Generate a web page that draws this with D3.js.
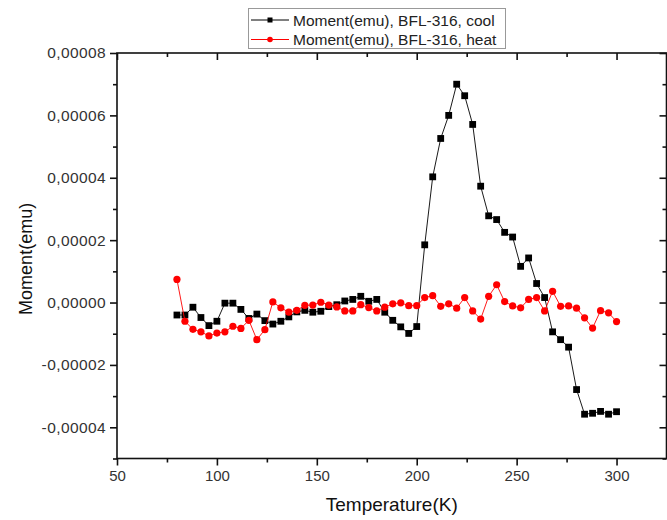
<!DOCTYPE html>
<html>
<head>
<meta charset="utf-8">
<script src="https://cdn.jsdelivr.net/npm/d3@7"></script>
<style>
  body { margin: 0; background: #fff; }
  svg { font-family: "Liberation Sans", Arial, sans-serif; }
</style>
</head>
<body>
<script>
// temperatures (K), both runs sampled every 4 K
var temps = d3.range(80, 301, 4);

// moment in units of 1e-5 emu
var coolVals = [-0.40, -0.40, -0.15, -0.48, -0.74, -0.60, -0.02, -0.02, -0.22, -0.51,
  -0.37, -0.58, -0.69, -0.60, -0.46, -0.30, -0.25, -0.31, -0.28, -0.13,
  -0.07, 0.05, 0.10, 0.20, 0.04, 0.10, -0.31, -0.57, -0.78, -0.99,
  -0.77, 1.85, 4.03, 5.26, 6.00, 7.00, 6.63, 5.71, 3.73, 2.78,
  2.66, 2.25, 2.10, 1.16, 1.43, 0.61, 0.16, -0.94, -1.19, -1.43,
  -2.79, -3.58, -3.55, -3.49, -3.58, -3.50];

var heatVals = [0.74, -0.60, -0.86, -0.94, -1.07, -0.98, -0.94, -0.76, -0.83, -0.57,
  -1.19, -0.87, 0.02, -0.17, -0.31, -0.25, -0.09, -0.08, 0.01, -0.08,
  -0.14, -0.27, -0.27, -0.07, -0.16, -0.27, -0.15, -0.04, -0.01, -0.10,
  -0.10, 0.16, 0.22, -0.12, -0.04, -0.18, 0.16, -0.27, -0.53, 0.20,
  0.57, 0.03, -0.11, -0.17, 0.10, 0.16, -0.27, 0.36, -0.12, -0.11,
  -0.18, -0.49, -0.82, -0.26, -0.33, -0.61];

var xTicks = [50, 100, 150, 200, 250, 300];
var yTicks = [-0.00004, -0.00002, 0, 0.00002, 0.00004, 0.00006, 0.00008];
var legendLabels = ["Moment(emu), BFL-316, cool", "Moment(emu), BFL-316, heat"];

var width = 667, height = 520;
var margin = {top: 53, right: 0, bottom: 62, left: 117};

var svg = d3.select("body").append("svg")
  .attr("width", width)
  .attr("height", height);

var x = d3.scaleLinear().domain([50, 325]).range([margin.left, width - margin.right - 0.5]);
var y = d3.scaleLinear().domain([-0.00005, 0.00008]).range([height - margin.bottom + 0.5, margin.top]);

var fmt = function(v) {
  return d3.format(".5f")(v).replace(".", ",").replace("−", "-");
};

var xMinor = d3.range(75, 325, 50);
var yMinor = d3.range(-5, 8, 2).map(function(d) { return d * 1e-5; });

var axisCol = "#111";
function styleTicks(g) {
  g.select(".domain").remove();
  g.selectAll("line").attr("stroke", axisCol).attr("stroke-width", 1.6);
}

// frame
svg.append("rect")
  .attr("x", x(50)).attr("y", y(0.00008))
  .attr("width", x(325) - x(50)).attr("height", y(-0.00005) - y(0.00008))
  .attr("fill", "none").attr("stroke", axisCol).attr("stroke-width", 1.6);

// bottom ticks (outward)
var bottom = svg.append("g").attr("transform", "translate(0," + y(-0.00005) + ")")
  .call(d3.axisBottom(x).tickValues(xTicks).tickSize(7).tickPadding(5).tickFormat(d3.format("d")))
  .call(styleTicks);
bottom.selectAll(".tick text").attr("font-size", 15).attr("fill", "#333")
  .attr("font-family", "Liberation Sans, Arial, sans-serif");
svg.append("g").attr("transform", "translate(0," + y(-0.00005) + ")")
  .call(d3.axisBottom(x).tickValues(xMinor).tickSize(4).tickFormat(""))
  .call(styleTicks);

// left ticks (outward)
var left = svg.append("g").attr("transform", "translate(" + x(50) + ",0)")
  .call(d3.axisLeft(y).tickValues(yTicks).tickSize(7).tickPadding(4).tickFormat(fmt))
  .call(styleTicks);
left.selectAll(".tick text").attr("font-size", 15.5).attr("fill", "#333")
  .attr("letter-spacing", 0.4)
  .attr("font-family", "Liberation Sans, Arial, sans-serif");
svg.append("g").attr("transform", "translate(" + x(50) + ",0)")
  .call(d3.axisLeft(y).tickValues(yMinor).tickSize(4).tickFormat(""))
  .call(styleTicks);

// top ticks (inward)
svg.append("g").attr("transform", "translate(0," + y(0.00008) + ")")
  .call(d3.axisBottom(x).tickValues(xTicks).tickSize(7).tickFormat(""))
  .call(styleTicks);
svg.append("g").attr("transform", "translate(0," + y(0.00008) + ")")
  .call(d3.axisBottom(x).tickValues(xMinor).tickSize(4).tickFormat(""))
  .call(styleTicks);

// right ticks (inward)
svg.append("g").attr("transform", "translate(" + x(325) + ",0)")
  .call(d3.axisLeft(y).tickValues(yTicks).tickSize(0).tickFormat(""))
  .call(styleTicks)
  .call(function(g) { g.selectAll("line").attr("x2", -7); });
svg.append("g").attr("transform", "translate(" + x(325) + ",0)")
  .call(d3.axisLeft(y).tickValues(yMinor).tickSize(0).tickFormat(""))
  .call(styleTicks)
  .call(function(g) { g.selectAll("line").attr("x2", -4); });

// axis titles
svg.append("text")
  .attr("x", (x(50) + x(325)) / 2).attr("y", 511)
  .attr("text-anchor", "middle").attr("font-size", 19).attr("fill", "#111")
  .text("Temperature(K)");
svg.append("text")
  .attr("transform", "translate(32," + y(0.000014) + ") rotate(-90)")
  .attr("text-anchor", "middle").attr("font-size", 18).attr("fill", "#111")
  .text("Moment(emu)");

// series
var series = [
  {name: legendLabels[0], vals: coolVals, col: "#000", shape: "square"},
  {name: legendLabels[1], vals: heatVals, col: "#ff0000", shape: "circle"}
];

var line = d3.line()
  .x(function(d) { return x(d[0]); })
  .y(function(d) { return y(d[1] * 1e-5); });

function drawMarker(g, shape, col, cx, cy) {
  if (shape == "square") {
    g.append("rect").attr("x", cx - 3.4).attr("y", cy - 3.4)
      .attr("width", 6.8).attr("height", 6.8).attr("fill", col);
  } else {
    g.append("circle").attr("cx", cx).attr("cy", cy).attr("r", 3.6).attr("fill", col);
  }
}

series.forEach(function(s) {
  var pts = temps.map(function(t, i) { return [t, s.vals[i]]; });
  var g = svg.append("g");
  g.append("path").datum(pts)
    .attr("d", line).attr("fill", "none")
    .attr("stroke", s.col).attr("stroke-width", 0.9);
  pts.forEach(function(p) {
    drawMarker(g, s.shape, s.col, x(p[0]), y(p[1] * 1e-5));
  });
});

// legend
var lg = svg.append("g");
lg.append("rect").attr("x", 248.5).attr("y", 8.5).attr("width", 257).attr("height", 40)
  .attr("fill", "#fff").attr("stroke", "#999").attr("stroke-width", 1);
series.forEach(function(s, i) {
  var cy = 20 + i * 19.5;
  lg.append("line").attr("x1", 251).attr("x2", 289).attr("y1", cy).attr("y2", cy)
    .attr("stroke", s.col).attr("stroke-width", 1);
  if (s.shape == "square") {
    lg.append("rect").attr("x", 267.5).attr("y", cy - 2.5).attr("width", 5).attr("height", 5).attr("fill", s.col);
  } else {
    lg.append("circle").attr("cx", 270).attr("cy", cy).attr("r", 2.8).attr("fill", s.col);
  }
  lg.append("text").attr("x", 293).attr("y", cy + 5.5)
    .attr("font-size", 15.5).attr("fill", "#222")
    .text(s.name);
});
</script>
</body>
</html>
